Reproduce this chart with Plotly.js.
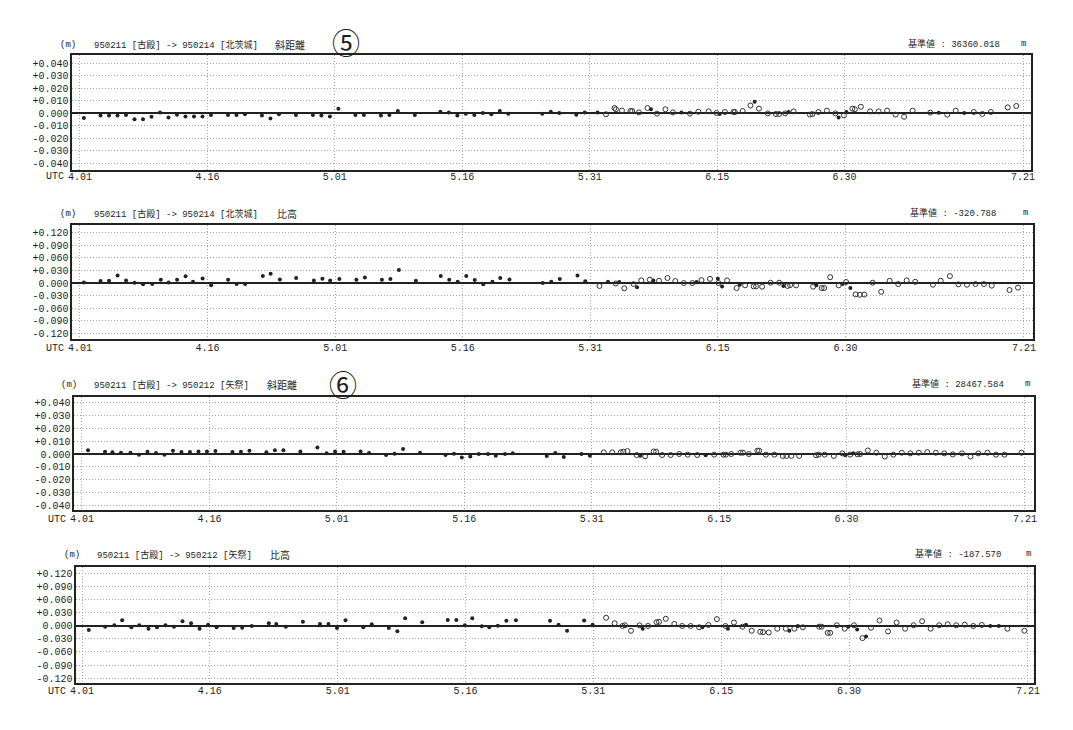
<!DOCTYPE html>
<html><head><meta charset="utf-8">
<script src="https://cdn.plot.ly/plotly-3.0.1.min.js"></script>
<style>html,body{margin:0;padding:0;background:#fff}#chart{width:1073px;height:730px}</style>
</head><body><div id="chart"></div>
<script>
const YEAR = "1995";
const xTickDates = ["04-01","04-16","05-01","05-16","05-31","06-15","06-30","07-21"];
const xTickText = ["4.01","4.16","5.01","5.16","5.31","6.15","6.30","7.21"];
const yTickValsDist = [-0.04,-0.03,-0.02,-0.01,0,0.01,0.02,0.03,0.04];
const yTickTextDist = ["-0.040","-0.030","-0.020","-0.010","0.000","+0.010","+0.020","+0.030","+0.040"];
const yTickValsHt = [-0.12,-0.09,-0.06,-0.03,0,0.03,0.06,0.09,0.12];
const yTickTextHt = ["-0.120","-0.090","-0.060","-0.030","0.000","+0.030","+0.060","+0.090","+0.120"];

const routes = ["950211 [古殿] -> 950214 [北茨城]","950211 [古殿] -> 950214 [北茨城]","950211 [古殿] -> 950212 [矢祭]","950211 [古殿] -> 950212 [矢祭]"];
const kinds = ["斜距離","比高","斜距離","比高"];
const circledNo = ["⑤","","⑥",""];
const baseValues = ["36360.018","-320.788","28467.584","-187.570"];

// Panel 1: slope distance 950211-950214
const p1FilledT = ["04-01 11","04-03 10","04-04 10","04-05 10","04-06 10","04-07 10","04-08 10","04-09 10","04-10 10","04-11 10","04-12 10","04-13 10","04-14 10","04-15 10","04-16 10","04-18 10","04-19 10","04-20 10","04-22 10","04-23 10","04-24 10","04-26 10","04-28 10","04-29 10","04-30 10","05-01 10","05-03 10","05-04 10","05-06 10","05-07 10","05-08 10","05-10 10","05-13 10","05-14 10","05-15 10","05-16 10","05-17 10","05-18 10","05-19 10","05-20 10","05-21 10","05-25 10","05-26 10","05-27 10","05-29 10","05-30 10","05-31 22","06-07 05","06-10 19","06-15 07","06-19 10","06-23 10","06-29 07","06-30 05","07-11 02","07-14 02"];
const p1FilledV = [-0.004,-0.002,-0.002,-0.002,-0.0016,-0.005,-0.005,-0.003,0.0005,-0.0035,-0.0013,-0.0027,-0.0027,-0.0027,-0.0016,-0.0016,-0.0016,-0.001,-0.002,-0.0043,-0.001,-0.0016,-0.0016,-0.002,-0.0027,0.0035,-0.0016,-0.0016,-0.002,-0.0016,0.0016,-0.0016,0.001,0.0005,-0.002,-0.0005,-0.0016,0,-0.001,0.0016,-0.0005,-0.0005,0.001,0,-0.0013,0.0005,0.0005,0.003,0.0005,-0.0008,0.009,0.0008,-0.0035,0.0008,0.0003,0];
const p1OpenT = ["06-01 22","06-02 22","06-03 02","06-03 19","06-04 19","06-05 00","06-05 19","06-06 19","06-07 22","06-08 22","06-09 19","06-11 19","06-12 19","06-14 00","06-14 22","06-15 22","06-16 22","06-17 02","06-18 00","06-18 22","06-19 22","06-20 23","06-21 22","06-22 07","06-23 00","06-24 00","06-25 22","06-26 05","06-26 22","06-27 22","06-28 22","06-29 22","06-30 22","07-01 05","07-01 22","07-03 00","07-04 00","07-05 00","07-06 00","07-07 00","07-08 00","07-10 02","07-12 02","07-13 02","07-15 05","07-16 05","07-17 05","07-19 05","07-20 05"];
const p1OpenV = [-0.001,0.004,0.003,0.002,0.0016,0.0016,0.0005,0.004,-0.0005,0.003,0.0005,-0.0005,0.001,0.0013,0,0.0008,0.0008,0.0008,0.0016,0.006,0.0035,-0.0003,-0.0008,-0.0008,-0.0003,0.0013,-0.0013,-0.0008,0.0008,0.0019,-0.0003,-0.0019,0.0035,0.003,0.005,0.0013,0.0013,0.0019,-0.0013,-0.003,0.0019,0.0003,-0.0013,0.0019,0.0008,-0.0008,0.0008,0.0045,0.0056];

// Panel 2: height difference 950211-950214
const p2FilledT = ["04-01 11","04-03 10","04-04 10","04-05 10","04-06 10","04-07 10","04-08 10","04-09 12","04-10 12","04-11 10","04-12 10","04-13 10","04-14 07","04-15 10","04-16 10","04-18 10","04-19 10","04-20 10","04-22 12","04-23 10","04-24 12","04-26 10","04-28 12","04-29 12","04-30 10","05-01 12","05-03 12","05-04 12","05-06 12","05-07 12","05-08 12","05-10 12","05-13 10","05-14 10","05-15 10","05-16 10","05-17 10","05-18 10","05-19 12","05-20 10","05-21 12","05-25 10","05-26 10","05-27 10","05-29 12","05-30 10","06-02 02","06-03 10","06-05 12","06-07 10","06-12 12","06-15 00","06-15 12","06-17 14","06-22 17","06-26 14","06-29 16","06-30 14"];
const p2FilledV = [0.0016,0.005,0.0055,0.018,0.006,0.001,-0.003,-0.0024,0.008,0.0016,0.008,0.016,0.003,0.011,-0.005,0.008,-0.0024,-0.0024,0.0166,0.022,0.0087,0.012,0.006,0.010,0.006,0.0095,0.008,0.013,0.008,0.0095,0.031,0.0055,0.0166,0.008,0.003,0.0166,0.007,-0.003,0.003,0.012,0.0087,0,0.003,0.0095,0.018,0.004,0.003,0.0024,-0.010,0.006,0.0024,0.010,-0.008,-0.004,-0.007,-0.0055,-0.0024,-0.012];
const p2OpenT = ["06-01 02","06-03 00","06-04 00","06-05 02","06-06 00","06-07 00","06-08 02","06-09 02","06-10 00","06-11 00","06-12 00","06-13 02","06-14 02","06-15 02","06-16 02","06-17 05","06-18 05","06-19 05","06-19 12","06-20 05","06-21 05","06-22 05","06-23 05","06-23 12","06-24 05","06-26 05","06-27 05","06-27 12","06-28 05","06-29 05","06-30 02","07-01 05","07-01 17","07-02 05","07-03 05","07-04 05","07-05 05","07-06 05","07-07 05","07-08 05","07-10 07","07-11 05","07-12 07","07-13 07","07-14 07","07-15 07","07-16 07","07-17 05","07-19 07","07-20 07"];
const p2OpenV = [-0.007,-0.001,-0.0126,-0.0024,0.0063,0.008,0.0055,0.012,0.0047,0,0,0.007,0.010,0,0.0063,-0.012,-0.0055,-0.008,-0.008,-0.0087,0.0008,0.0008,-0.007,-0.005,-0.0055,-0.0087,-0.012,-0.012,0.014,-0.0055,0.0024,-0.027,-0.028,-0.0276,0.0008,-0.021,0.0055,-0.0024,0.0063,0.003,-0.004,0.0055,0.0166,-0.003,-0.004,-0.0024,-0.0024,-0.0063,-0.0166,-0.011];

// Panel 3: slope distance 950211-950212
const p3FilledT = ["04-01 17","04-03 17","04-04 14","04-05 14","04-06 17","04-07 17","04-08 17","04-09 17","04-10 17","04-11 17","04-12 17","04-13 17","04-14 17","04-15 17","04-16 17","04-18 17","04-19 17","04-20 17","04-22 17","04-23 17","04-24 17","04-26 17","04-28 17","04-29 19","04-30 19","05-01 19","05-03 19","05-04 19","05-06 19","05-07 19","05-08 19","05-10 19","05-13 19","05-14 19","05-15 17","05-16 17","05-17 17","05-18 19","05-19 17","05-20 19","05-21 17","05-25 17","05-26 17","05-27 17","05-29 19","05-30 19","06-05 17","06-13 10","06-29 20","06-30 19"];
const p3FilledV = [0.003,0.0018,0.0013,0.001,0.001,-0.0005,0.0018,0.0008,-0.0005,0.0026,0.0015,0.0015,0.002,0.002,0.0023,0.0015,0.0018,0.0026,0.0013,0.003,0.003,0.002,0.0051,0.0005,0.002,0.0018,0.002,0.0008,-0.0008,0.0003,0.004,0.001,-0.0008,0.0003,-0.0028,-0.002,0,0,-0.0013,0,0.0005,-0.0015,0.0008,-0.0023,0,-0.0013,-0.0013,-0.001,-0.001,0.0005];
const p3OpenT = ["06-01 10","06-02 10","06-03 10","06-03 17","06-04 05","06-05 07","06-06 07","06-07 07","06-07 14","06-08 07","06-09 07","06-10 07","06-11 07","06-12 10","06-14 10","06-15 12","06-15 19","06-16 10","06-17 12","06-17 19","06-18 12","06-19 12","06-19 17","06-20 12","06-21 12","06-22 12","06-22 22","06-23 12","06-24 10","06-26 10","06-26 17","06-27 10","06-28 12","06-29 12","06-30 10","07-01 07","07-01 14","07-02 12","07-03 12","07-04 12","07-05 12","07-06 12","07-07 12","07-08 12","07-09 12","07-10 12","07-11 12","07-12 12","07-13 14","07-14 14","07-15 12","07-16 14","07-17 14","07-18 14","07-20 14"];
const p3OpenV = [0.0013,0.0013,0.0013,0.0018,0.0023,-0.0008,-0.0018,0.002,0.0018,-0.0008,-0.0008,0,-0.0005,-0.0008,-0.0005,-0.0005,-0.0005,0,0.001,0.001,0,0.0026,0.0026,-0.0005,-0.0005,-0.0015,-0.0015,-0.0015,-0.0015,-0.001,-0.0005,-0.0005,-0.0015,0.0005,-0.0005,-0.0003,0,0.0028,0.001,-0.002,-0.0005,0.001,0.0005,0.001,0.0015,0.001,0.0005,-0.0003,0.0005,-0.002,0.0005,0.001,-0.0005,-0.0005,0.001];

// Panel 4: height difference 950211-950212
const p4FilledT = ["04-01 19","04-03 17","04-04 19","04-05 17","04-06 19","04-07 17","04-08 19","04-09 19","04-10 19","04-11 19","04-12 19","04-13 19","04-14 19","04-15 19","04-16 19","04-18 19","04-19 19","04-20 22","04-22 22","04-23 19","04-24 22","04-26 22","04-28 22","04-29 22","04-30 22","05-01 22","05-04 00","05-05 00","05-07 00","05-08 00","05-08 22","05-10 22","05-13 22","05-14 22","05-15 22","05-16 19","05-17 22","05-18 19","05-19 19","05-20 19","05-21 22","05-25 22","05-26 22","05-27 22","05-29 22","05-30 22","06-05 19","06-12 19","06-15 19","06-17 22","06-23 00","06-24 00","06-29 22","06-30 23","07-02 00","07-16 14","07-17 14"];
const p4FilledV = [-0.0095,-0.0016,0.0016,0.0134,-0.003,0.0016,-0.0063,-0.003,0.0016,-0.0016,0.011,0.0063,-0.0063,0.003,-0.003,-0.0047,-0.004,0,0.0063,0.0047,-0.0016,0.0095,0.0047,0.0047,-0.0047,0.0134,-0.003,0.004,-0.0047,-0.012,0.018,0.0087,0.014,0.014,0.0016,0.018,-0.0008,-0.003,0.0008,0.012,0.0134,0.012,0.003,-0.011,0.0126,0.003,-0.0063,-0.003,-0.0063,0.003,-0.011,0,-0.0016,-0.008,-0.024,0,0];
const p4OpenT = ["06-01 12","06-02 12","06-03 10","06-03 17","06-04 10","06-05 10","06-06 10","06-07 10","06-07 17","06-08 12","06-09 12","06-10 10","06-11 10","06-12 10","06-13 12","06-14 12","06-15 12","06-16 12","06-17 12","06-18 14","06-19 14","06-19 22","06-20 14","06-21 14","06-22 14","06-23 14","06-24 14","06-26 12","06-26 19","06-27 12","06-27 19","06-28 14","06-29 12","06-30 14","07-01 14","07-02 14","07-03 14","07-04 14","07-05 14","07-06 14","07-07 14","07-08 14","07-09 14","07-10 14","07-11 14","07-12 14","07-13 14","07-14 14","07-15 14","07-18 14","07-20 14"];
const p4OpenV = [0.019,0.0063,0,0.0016,-0.011,0.0016,0,0.0087,0.0095,0.0166,0.0047,0,0,-0.003,0.0024,0.0158,0,0.008,-0.0016,-0.011,-0.0134,-0.0142,-0.015,-0.0063,-0.0063,-0.0063,-0.003,-0.0016,-0.0016,-0.0158,-0.0158,0.0016,-0.0063,0.0016,-0.028,-0.004,0.0126,-0.0126,0.008,-0.0063,0.0016,0.011,-0.0063,0.0016,0.004,0.0016,0.003,0,0.0024,-0.0063,-0.011];

const series = [
  [p1FilledT,p1FilledV,p1OpenT,p1OpenV],
  [p2FilledT,p2FilledV,p2OpenT,p2OpenV],
  [p3FilledT,p3FilledV,p3OpenT,p3OpenV],
  [p4FilledT,p4FilledV,p4OpenT,p4OpenV]
];

// layout geometry (pixels in 1073x730 page)
const W = 1073, H = 730;
const geom = [
  {top:55, bottom:170, left:72, right:1031, pre:0.94, post:0.94, yr:[-0.0456,0.0464], ty:45, tx:[58,92,273,346,906,1023], cy:42, xso:-4, utcOff:7, dist:true},
  {top:225, bottom:339, left:72, right:1033, pre:0.94, post:1.06, yr:[-0.134,0.139], ty:214, tx:[58,92,275,0,908,1025], cy:0, xso:-2, utcOff:9, dist:false},
  {top:397, bottom:510, left:74, right:1034, pre:0.94, post:1.06, yr:[-0.0439,0.0447], ty:385, tx:[59,92,265,343,910,1027], cy:384, xso:-2, utcOff:9, dist:true},
  {top:567, bottom:683, left:76, right:1034, pre:0.71, post:0.71, yr:[-0.1315,0.136], ty:555, tx:[62,95,268,0,913,1028], cy:0, xso:-3, utcOff:8, dist:false}
];

const ts = s => YEAR + "-" + s.slice(0,5) + " " + s.slice(6) + ":00";
const DAY = 86400000;
const dms = (mmdd) => Date.UTC(+YEAR, +mmdd.slice(0,2)-1, +mmdd.slice(3,5));
const FONT = "Liberation Mono, 'Noto Sans CJK JP', monospace";
const TXT = "#1e1e1e";
const GRID = "#a8a8a8";

const data = [];
const layout = {
  width: W, height: H, margin:{l:0,r:0,t:0,b:0},
  paper_bgcolor:"#fff", plot_bgcolor:"#fff", showlegend:false,
  font:{family:FONT, size:10, color:TXT},
  annotations:[]
};
const px = x => x / W, py = y => 1 - y / H;

geom.forEach((g, i) => {
  const k = i + 1;
  const xa = "xaxis" + (k===1?"":k), ya = "yaxis" + (k===1?"":k);
  const xr = "x" + (k===1?"":k), yr = "y" + (k===1?"":k);
  const s = series[i];
  data.push({x:s[0].map(ts), y:s[1], xaxis:xr, yaxis:yr, type:"scatter", mode:"markers",
    marker:{symbol:"circle", size:4, color:"#222"}, hoverinfo:"skip"});
  data.push({x:s[2].map(ts), y:s[3], xaxis:xr, yaxis:yr, type:"scatter", mode:"markers",
    marker:{symbol:"circle-open", size:5, color:"#333", line:{width:1, color:"#333"}}, hoverinfo:"skip"});
  layout[xa] = {
    type:"date", domain:[px(g.left), px(g.right)], anchor:yr,
    range:[dms(xTickDates[0]) - g.pre*DAY, dms(xTickDates[xTickDates.length-1]) + g.post*DAY],
    tickvals:xTickDates.map(d => YEAR + "-" + d), ticktext:xTickText,
    ticks:"", ticklabelstandoff:g.xso, showgrid:true, gridcolor:GRID, griddash:"1px,2px", gridwidth:1,
    showline:true, mirror:true, linecolor:"#222", linewidth:1.6, zeroline:false,
    tickfont:{family:FONT, size:10, color:TXT}, fixedrange:true
  };
  layout[ya] = {
    domain:[py(g.bottom), py(g.top)], anchor:xr, range:g.yr,
    tickvals: g.dist ? yTickValsDist : yTickValsHt,
    ticktext: g.dist ? yTickTextDist : yTickTextHt,
    ticks:"", showgrid:true, gridcolor:GRID, griddash:"1px,2px", gridwidth:1,
    zeroline:true, zerolinecolor:"#222", zerolinewidth:1.4,
    showline:true, mirror:true, linecolor:"#222", linewidth:1.6,
    tickfont:{family:FONT, size:10, color:TXT}, fixedrange:true
  };
  const A = layout.annotations;
  const base = {xref:"paper", yref:"paper", showarrow:false, yanchor:"middle", font:{family:FONT, size:9, color:TXT}};
  A.push(Object.assign({}, base, {x:px(g.tx[0]), y:py(g.ty), xanchor:"left", text:"(m)"}));
  A.push(Object.assign({}, base, {x:px(g.tx[1]), y:py(g.ty), xanchor:"left", text:routes[i]}));
  A.push(Object.assign({}, base, {x:px(g.tx[2]), y:py(g.ty), xanchor:"left", text:kinds[i], font:{family:FONT, size:10, color:TXT}}));
  if (circledNo[i]) A.push(Object.assign({}, base, {x:px(g.tx[3]), y:py(g.cy), xanchor:"center", text:circledNo[i], font:{family:"'Noto Sans CJK JP'", size:28, color:TXT}}));
  A.push(Object.assign({}, base, {x:px(g.tx[4]), y:py(g.ty-1), xanchor:"left", text:"基準値 : " + baseValues[i]}));
  A.push(Object.assign({}, base, {x:px(g.tx[5]), y:py(g.ty-1), xanchor:"center", text:"m"}));
  // "UTC" prefix left of the first date label, on the tick-label row
  const t0 = g.left + g.pre * (g.right - g.left) / (111 + g.pre + g.post);
  A.push(Object.assign({}, base, {x:px(t0 - 14), y:py(g.bottom + g.utcOff), xanchor:"right", text:"UTC", font:{family:FONT, size:10, color:TXT}}));
});

Plotly.newPlot("chart", data, layout, {displayModeBar:false, staticPlot:true});
</script></body></html>
